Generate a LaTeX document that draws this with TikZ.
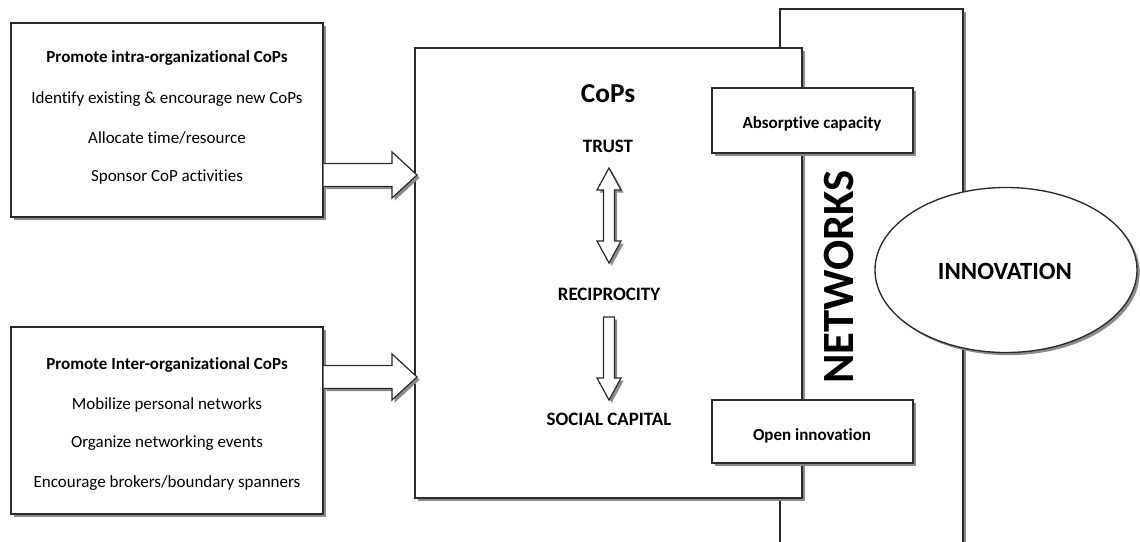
\documentclass[tikz,border=0pt]{standalone}
\usepackage{fontspec}
\setmainfont{Carlito}[Ligatures=NoCommon]
\usetikzlibrary{shadows,shapes.geometric,calc}
\definecolor{edge}{HTML}{2A2A2A}
\definecolor{shade}{HTML}{8C8C8C}
\tikzset{
  shadowed/.style={drop shadow={shadow xshift=2pt, shadow yshift=-2pt, fill=shade, opacity=1}},
  panel/.style={draw=edge, line width=1pt, fill=white, inner sep=0pt, shadowed},
  label/.style={font=\fontsize{12.75}{15}\selectfont, inner sep=0pt},
  blabel/.style={font=\fontsize{12.75}{15}\selectfont\bfseries, inner sep=0pt},
  heading/.style={font=\fontsize{14.2}{17}\selectfont\bfseries, inner sep=0pt},
  blockfill/.style={fill=white, shadowed},
  blockline/.style={draw=edge, line width=0.9pt, line join=miter},
}
\begin{document}
\begin{tikzpicture}[x=0.75pt,y=-0.75pt]
\useasboundingbox[fill=white] (0,0) rectangle (1140,542);

% network frame, running off the lower edge
\node[panel, minimum width=137.25pt, minimum height=420.75pt] (net) at (871.5,289.5) {};

% central community-of-practice panel
\node[panel, minimum width=290.25pt, minimum height=337.5pt] (cops) at (608.5,273) {};

% left-hand policy panels
\node[panel, minimum width=234pt, minimum height=145.5pt] (intra) at (167,120) {};
\node[panel, minimum width=234pt, minimum height=140.25pt] (inter) at (167,420.5) {};

% boxes straddling the network frame
\node[panel, minimum width=150.75pt, minimum height=48.75pt] (absorb) at (812.5,120.5) {};
\node[panel, minimum width=150.75pt, minimum height=47.25pt] (openinn) at (812.5,431.5) {};

% outcome ellipse
\node[panel, ellipse, minimum width=196.5pt, minimum height=123.75pt] (innov) at (1006,270) {};

% block arrows from the policy panels into the CoPs panel
\coordinate (a1s) at (intra.east |- 0,175);
\coordinate (a1e) at (417,175);
\coordinate (a2s) at (inter.east |- 0,377);
\coordinate (a2e) at (417,377);
\foreach \s/\e in {a1s/a1e, a2s/a2e}{
  \path[blockfill] (\s) -- ($(\s)+(0,-11.5)$) -- ($(\e)+(-25,-11.5)$) -- ($(\e)+(-25,-23)$) -- (\e)
     -- ($(\e)+(-25,23)$) -- ($(\e)+(-25,11.5)$) -- ($(\s)+(0,11.5)$) -- cycle;
  \draw[blockline] ($(\s)+(0,-11.5)$) -- ($(\e)+(-25,-11.5)$) -- ($(\e)+(-25,-23)$) -- (\e)
     -- ($(\e)+(-25,23)$) -- ($(\e)+(-25,11.5)$) -- ($(\s)+(0,11.5)$);
}

% two-way arrow between trust and reciprocity
\coordinate (d1t) at (609,168);
\coordinate (d1b) at (609,263);
\path[blockfill, blockline] (d1t) -- ($(d1t)+(12,22)$) -- ($(d1t)+(5.5,22)$) -- ($(d1b)+(5.5,-22)$)
   -- ($(d1b)+(12,-22)$) -- (d1b) -- ($(d1b)+(-12,-22)$) -- ($(d1b)+(-5.5,-22)$)
   -- ($(d1t)+(-5.5,22)$) -- ($(d1t)+(-12,22)$) -- cycle;

% arrow from reciprocity down to social capital
\coordinate (d2s) at (609,317);
\coordinate (d2e) at (609,400);
\path[blockfill, blockline] ($(d2s)+(-5.5,0)$) -- ($(d2s)+(5.5,0)$) -- ($(d2e)+(5.5,-22)$)
   -- ($(d2e)+(12,-22)$) -- (d2e) -- ($(d2e)+(-12,-22)$) -- ($(d2e)+(-5.5,-22)$) -- cycle;

% texts of the intra-organizational panel
\node[blabel] (i1) at (167,58) {Promote intra-organizational CoPs};
\node[label] (i2) at (167,99) {Identify existing \& encourage new CoPs};
\node[label] (i3) at (167,138) {Allocate time/resource};
\node[label] (i4) at (167,177) {Sponsor CoP activities};

% texts of the inter-organizational panel
\node[blabel] (o1) at (167,365) {Promote Inter-organizational CoPs};
\node[label] (o2) at (167,405) {Mobilize personal networks};
\node[label] (o3) at (167,443) {Organize networking events};
\node[label] (o4) at (167,483) {Encourage brokers/boundary spanners};

% contents of the CoPs panel
\node[font=\fontsize{20.5}{24}\selectfont\bfseries, inner sep=0pt] (copsT) at (608,94) {CoPs};
\node[heading] (trust) at (608,146) {TRUST};
\node[heading] (recip) at (609,294) {RECIPROCITY};
\node[heading] (social) at (609,419) {SOCIAL CAPITAL};

\node[blabel] (absorbT) at (812,124) {Absorptive capacity};
\node[blabel] (openT) at (812,436) {Open innovation};

\node[font=\fontsize{33.5}{38}\selectfont\bfseries, rotate=90, inner sep=0pt] (netT) at (839,277) {NETWORKS};
\node[font=\fontsize{18.6}{22}\selectfont\bfseries, inner sep=0pt] (innovT) at (1005,271) {INNOVATION};
\end{tikzpicture}
\end{document}
